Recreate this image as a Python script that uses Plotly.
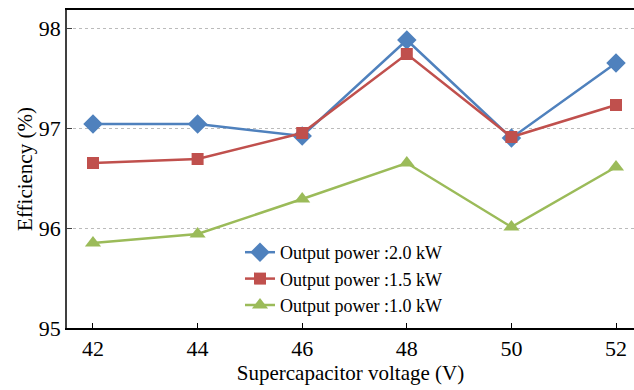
import plotly.graph_objects as go

voltage = [42, 44, 46, 48, 50, 52]
eff_2_0kw = [97.04, 97.04, 96.92, 97.88, 96.90, 97.65]
eff_1_5kw = [96.65, 96.69, 96.95, 97.74, 96.91, 97.23]
eff_1_0kw = [95.85, 95.94, 96.29, 96.65, 96.01, 96.61]
series_names = ["Output power :2.0 kW", "Output power :1.5 kW", "Output power :1.0 kW"]
y_ticks = [95, 96, 97, 98]
x_ticks = [42, 44, 46, 48, 50, 52]

font_family = "Liberation Serif"

fig = go.Figure()
styles = [
    (eff_2_0kw, "#4F81BD", "diamond", 15),
    (eff_1_5kw, "#C0504D", "square", 12),
    (eff_1_0kw, "#9BBB59", "triangle-up", 14),
]
for (vals, color, sym, sz), name in zip(styles, series_names):
    fig.add_trace(go.Scatter(
        x=voltage, y=vals, name=name, mode="lines+markers",
        line=dict(color=color, width=2.5),
        marker=dict(symbol=sym, size=sz, color=color),
    ))

fig.update_layout(
    width=634, height=390,
    margin=dict(l=67, r=0, t=10, b=62),
    plot_bgcolor="white", paper_bgcolor="white",
    font=dict(family=font_family, color="black"),
    showlegend=True,
    legend=dict(
        x=(240 - 67) / 567, y=(328 - 234) / 318, xanchor="left", yanchor="top",
        font=dict(size=18, family=font_family), bgcolor="rgba(0,0,0,0)",
        tracegroupgap=0,
    ),
    xaxis=dict(
        range=[41.503, 52.344], tickvals=x_ticks, ticks="inside", ticklen=5,
        tickcolor="black", showline=True, linecolor="black", linewidth=1.5,
        mirror=True, showgrid=False, zeroline=False,
        tickfont=dict(size=22), title=dict(text="Supercapacitor voltage (V)", font=dict(size=21), standoff=4),
    ),
    yaxis=dict(
        range=[95, 98.18], tickvals=y_ticks, ticks="inside", ticklen=5,
        tickcolor="#404040", showline=True, linecolor="#404040", linewidth=1.5,
        showgrid=True, gridcolor="#BBBBBB", griddash="dot", gridwidth=1,
        zeroline=False, tickfont=dict(size=22), ticklabelstandoff=0,
        title=dict(text="Efficiency (%)", font=dict(size=21), standoff=0),
    ),
)

fig.write_html("out.html")
